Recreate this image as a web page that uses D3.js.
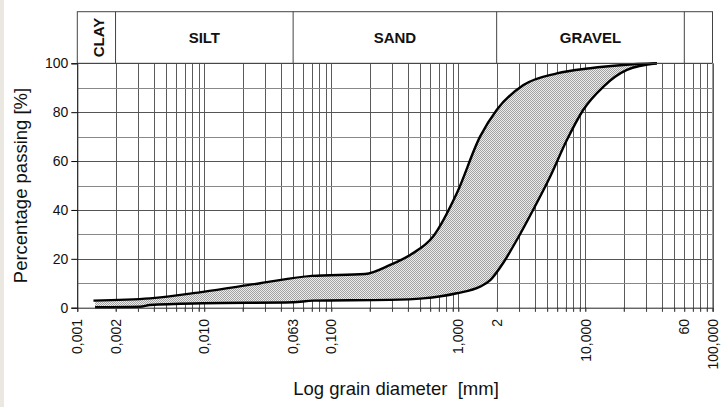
<!DOCTYPE html>
<html>
<head>
<meta charset="utf-8">
<script src="https://cdn.jsdelivr.net/npm/d3@7"></script>
<style>
  body { margin: 0; background: #fff; }
  svg { display: block; font-family: Arial, "Liberation Sans", sans-serif; }
</style>
</head>
<body>
<div id="chart"></div>
<script>
// grading envelope - fine limit (upper) and coarse limit (lower)
const sizesUpper = [0.00134, 0.00373, 0.00977, 0.0275, 0.0701, 0.184, 0.290, 0.417, 0.632, 0.971, 1.48, 2.00, 3.25, 5.96, 10.9, 19.8, 36.5];
const passUpper  = [2.9, 3.8, 6.5, 10.0, 13.0, 13.8, 17.5, 21.6, 29.1, 46.8, 70.0, 80.9, 91.1, 95.9, 98.0, 99.3, 100];
const sizesLower = [0.00138, 0.00312, 0.00373, 0.00977, 0.0499, 0.0718, 0.290, 0.527, 0.971, 1.48, 1.78, 2.25, 2.88, 3.87, 5.27, 7.14, 9.59, 13.8, 21.2, 36.5];
const passLower  = [0.2, 0.4, 1.1, 1.8, 2.2, 2.9, 3.2, 3.8, 5.9, 8.6, 11.3, 18.3, 27.7, 40.0, 53.6, 68.6, 80.9, 90.4, 97.3, 100];

// x tick labels (the 0,063 label sits on the 0.05 line in the original)
const xTickValues = [0.001, 0.002, 0.01, 0.05, 0.1, 1, 2, 10, 60, 100];
const xTickLabels = ["0,001", "0,002", "0,010", "0,063", "0,100", "1,000", "2", "10,000", "60", "100,000"];
const yTickValues = [0, 20, 40, 60, 80, 100];

// soil classes along the top
const zoneBounds = [0.001, 0.002, 0.05, 2, 60, 100];
const zoneNames  = ["CLAY", "SILT", "SAND", "GRAVEL", ""];

const w = 722, h = 407;
const mLeft = 77.3, mRight = 712.5, mTop = 63.3, mBottom = 307.7, headTop = 11.7;

const x = d3.scaleLog().domain([0.001, 100]).range([mLeft, mRight]);
const y = d3.scaleLinear().domain([0, 100]).range([mBottom, mTop]);

const upper = sizesUpper.map((d, i) => [d, passUpper[i]]);
const lower = sizesLower.map((d, i) => [d, passLower[i]]);

const svg = d3.select("#chart").append("svg")
    .attr("width", w)
    .attr("height", h);

// light strip at the left edge
svg.append("rect").attr("x", 0).attr("y", 0).attr("width", 4).attr("height", h).attr("fill", "#ebe8e1");

const defs = svg.append("defs");
const pat = defs.append("pattern")
    .attr("id", "dots")
    .attr("x", 0).attr("y", 0)
    .attr("width", 2).attr("height", 2)
    .attr("patternUnits", "userSpaceOnUse");
pat.append("rect").attr("width", 2).attr("height", 2).attr("fill", "#ececec");
pat.append("rect").attr("width", 1).attr("height", 1).attr("fill", "#a2a2a2").attr("shape-rendering", "crispEdges");
pat.append("rect").attr("x", 1).attr("y", 1).attr("width", 1).attr("height", 1).attr("fill", "#a2a2a2").attr("shape-rendering", "crispEdges");

// grid
svg.append("g")
    .selectAll("line")
    .data(x.ticks())
    .enter()
    .append("line")
    .attr("x1", d => Math.round(x(d)) + 0.5)
    .attr("x2", d => Math.round(x(d)) + 0.5)
    .attr("y1", mTop)
    .attr("y2", mBottom + 4)
    .attr("stroke", "#5a5a5a");

svg.append("g")
    .selectAll("line")
    .data(d3.range(10, 101, 10))
    .enter()
    .append("line")
    .attr("x1", mLeft)
    .attr("x2", mRight)
    .attr("y1", d => Math.round(y(d)) + 0.5)
    .attr("y2", d => Math.round(y(d)) + 0.5)
    .attr("stroke", d => d % 20 === 0 ? "#555" : "#888");

// band between the two limits: area under upper curve clipped to the part above lower curve
const curveLine = d3.line()
    .x(d => x(d[0]))
    .y(d => y(d[1]))
    .curve(d3.curveMonotoneX);

defs.append("clipPath")
    .attr("id", "aboveLower")
    .append("path")
    .attr("d", d3.area()
        .x(d => x(d[0]))
        .y0(mTop - 5)
        .y1(d => y(d[1]))
        .curve(d3.curveMonotoneX)(lower));

svg.append("path")
    .attr("d", d3.area()
        .x(d => x(d[0]))
        .y0(mBottom)
        .y1(d => y(d[1]))
        .curve(d3.curveMonotoneX)(upper))
    .attr("fill", "url(#dots)")
    .attr("clip-path", "url(#aboveLower)");

svg.append("path").attr("d", curveLine(upper))
    .attr("fill", "none").attr("stroke", "#000").attr("stroke-width", 2.4);
svg.append("path").attr("d", curveLine(lower))
    .attr("fill", "none").attr("stroke", "#000").attr("stroke-width", 2.4);

// header with soil classes
const head = svg.append("g");
head.append("rect")
    .attr("x", mLeft).attr("y", headTop)
    .attr("width", mRight - mLeft).attr("height", mTop - headTop)
    .attr("fill", "none").attr("stroke", "#444");
head.selectAll("line")
    .data(zoneBounds.slice(1, -1))
    .enter()
    .append("line")
    .attr("x1", d => x(d)).attr("x2", d => x(d))
    .attr("y1", headTop).attr("y2", mTop)
    .attr("stroke", "#444");
zoneNames.forEach((name, i) => {
    if (!name) return;
    const cx = (x(zoneBounds[i]) + x(zoneBounds[i + 1])) / 2;
    const cy = (headTop + mTop) / 2;
    const t = head.append("text")
        .attr("font-size", 15)
        .attr("font-weight", "bold")
        .attr("text-anchor", "middle")
        .attr("dy", "0.36em")
        .attr("fill", "#111")
        .text(name);
    if (i === 0) t.attr("transform", `translate(${cx + 2},${cy}) rotate(-90)`);
    else t.attr("x", cx).attr("y", cy);
});

// right border
svg.append("line")
    .attr("x1", mRight).attr("x2", mRight)
    .attr("y1", mTop).attr("y2", mBottom)
    .attr("stroke", "#999");

// axes
const xAxis = d3.axisBottom(x).tickValues(x.ticks()).tickSize(4).tickFormat("");
svg.append("g")
    .attr("transform", `translate(0, ${mBottom})`)
    .call(xAxis)
    .call(g => g.select(".domain").attr("stroke", "#222"))
    .call(g => g.selectAll(".tick line").attr("stroke", "#444"));

svg.append("g")
    .selectAll("text")
    .data(xTickValues)
    .enter()
    .append("text")
    .attr("transform", d => `translate(${x(d)}, 319) rotate(-90)`)
    .attr("text-anchor", "end")
    .attr("dy", "0.36em")
    .attr("font-size", 14)
    .attr("fill", "#111")
    .text((d, i) => xTickLabels[i]);

const yAxis = d3.axisLeft(y).tickValues(yTickValues).tickSize(6).tickPadding(3);
svg.append("g")
    .attr("transform", `translate(${mLeft}, 0)`)
    .call(yAxis)
    .call(g => g.select(".domain").attr("stroke", "#222"))
    .call(g => g.selectAll(".tick text").attr("font-size", 14).attr("fill", "#111").attr("font-family", "Arial, 'Liberation Sans', sans-serif"));

svg.append("text")
    .attr("transform", `translate(27, ${(mTop + mBottom) / 2}) rotate(-90)`)
    .attr("text-anchor", "middle")
    .attr("font-size", 18.5)
    .attr("fill", "#111")
    .text("Percentage passing [%]");

svg.append("text")
    .attr("x", 396)
    .attr("y", 395)
    .attr("text-anchor", "middle")
    .attr("font-size", 18.5)
    .attr("fill", "#111")
    .attr("xml:space", "preserve")
    .style("white-space", "pre")
    .text("Log grain diameter  [mm]");
</script>
</body>
</html>
